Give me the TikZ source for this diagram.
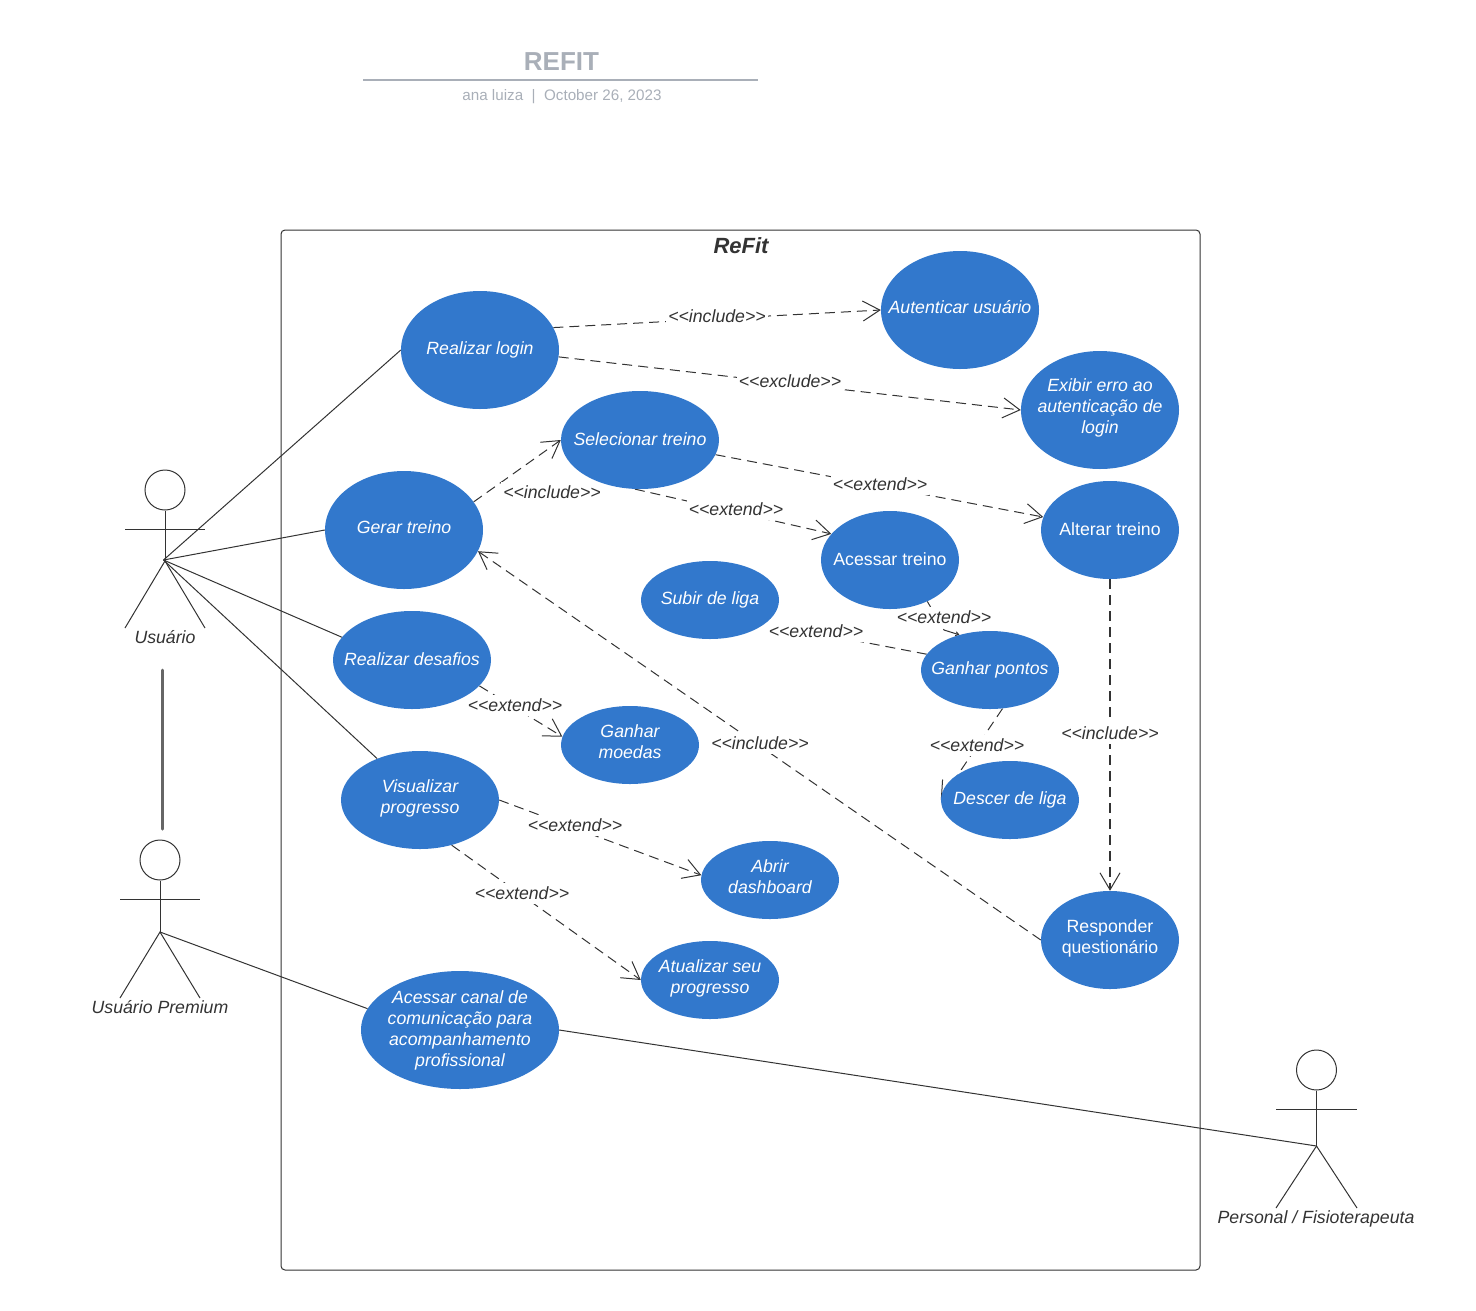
\documentclass[tikz,border=0pt]{standalone}
\usepackage{fontspec}
\setmainfont{Liberation Sans}
\usetikzlibrary{shapes.geometric,arrows.meta,backgrounds}
\definecolor{ucblue}{HTML}{3278CC}
\definecolor{ink}{HTML}{333333}
\definecolor{titlegray}{HTML}{A9AFB8}
\newcommand{\lext}{<{}<extend>{}>}
\newcommand{\linc}{<{}<include>{}>}
\newcommand{\lexc}{<{}<exclude>{}>}
\tikzset{
 uc/.style={ellipse,fill=ucblue,inner sep=0pt},
 ut/.style={text=white,inner sep=0pt,align=center,font=\fontsize{17.7}{21}\selectfont\itshape},
 utup/.style={ut,font=\fontsize{17.7}{21}\selectfont\upshape},
 big/.style={minimum width=158pt,minimum height=118pt},
 mid/.style={minimum width=158pt,minimum height=98pt},
 tall/.style={minimum width=138pt,minimum height=98pt},
 small/.style={minimum width=138pt,minimum height=78pt},
 barb/.style={-{Straight Barb[length=17pt,width=20pt,line width=1pt]}},
 dep/.style={draw=ink,line width=1pt,dash pattern=on 10pt off 6pt,barb},
 plaindep/.style={draw=ink,line width=1pt,dash pattern=on 10pt off 6pt},
 lab/.style={fill=white,inner xsep=2pt,inner ysep=0pt,minimum height=21pt,text=ink,font=\fontsize{17.7}{21}\selectfont\itshape},
 assoc/.style={draw=ink,line width=1pt},
 stick/.style={draw=ink,line width=1pt},
 headc/.style={draw=ink,line width=1pt,circle,minimum size=40pt,inner sep=0pt},
 actorlab/.style={text=ink,font=\fontsize{17.7}{21}\selectfont\itshape},
}
\begin{document}
\begin{tikzpicture}[x=1pt,y=-1pt]
\useasboundingbox (0,0) rectangle (1476,1310);
\node[font=\fontsize{26}{30}\selectfont\bfseries,text=titlegray] (title) at (561.5,61.5) {REFIT};
\draw[titlegray,line width=2pt] (363,80) -- (758,80);
\node[font=\fontsize{15.2}{18}\selectfont,text=titlegray] (sub) at (562,96.5) {ana luiza\ \ |\ \ October 26, 2023};
\node[draw=ink,line width=1pt,rounded corners=4pt,minimum width=919pt,minimum height=1040pt,inner sep=0pt] (frame) at (740.5,750) {};
\node[font=\fontsize{22}{26}\selectfont\bfseries\itshape,text=ink] (frametitle) at (741,246) {ReFit};

\node[uc,big,label={[ut]center:Realizar login}] (login) at (480,350) {};
\node[uc,big,label={[ut,yshift=3pt]center:Autenticar usuário}] (auth) at (960,310) {};
\node[uc,big,label={[ut,yshift=2pt]center:{Exibir erro ao\\autenticação de\\login}}] (erro) at (1100,410) {};
\node[uc,big,label={[ut,yshift=3pt]center:Gerar treino}] (gerar) at (404,530) {};
\node[uc,mid,label={[ut,yshift=1pt]center:Selecionar treino}] (sel) at (640,440) {};
\node[uc,tall,label={[utup,yshift=1pt]center:Alterar treino}] (alterar) at (1110,530) {};
\node[uc,tall,label={[utup,yshift=1pt]center:Acessar treino}] (acessar) at (890,560) {};
\node[uc,small,label={[ut]center:Subir de liga}] (subir) at (710,600) {};
\node[uc,small,label={[ut]center:Ganhar pontos}] (pontos) at (990,670) {};
\node[uc,mid,label={[ut,yshift=1pt]center:Realizar desafios}] (desafios) at (412,660) {};
\node[uc,small,label={[ut,yshift=3pt]center:{Ganhar\\moedas}}] (moedas) at (630,745) {};
\node[uc,small,label={[ut]center:Descer de liga}] (descer) at (1010,800) {};
\node[uc,mid,label={[ut,yshift=2pt]center:{Visualizar\\progresso}}] (visual) at (420,800) {};
\node[uc,small,label={[ut,yshift=3pt]center:{Abrir\\dashboard}}] (abrir) at (770,880) {};
\node[uc,tall,label={[utup,yshift=2pt]center:{Responder\\questionário}}] (resp) at (1110,940) {};
\node[uc,small,label={[ut,yshift=2pt]center:{Atualizar seu\\progresso}}] (atual) at (710,980) {};
\node[uc,minimum width=198pt,minimum height=118pt,label={[ut]center:{Acessar canal de\\comunicação para\\acompanhamento\\profissional}}] (canal) at (460,1030) {};

% actors
\node[headc] (h1) at (165,490) {};
\coordinate (u) at (163.5,560);
\coordinate (u1) at (165,561);
\draw[stick] (h1.south) -- (u1);
\draw[stick] (125,529) -- (205,529);
\draw[stick] (125,628) -- (u1) -- (205,628);
\node[actorlab] (ul) at (165,637) {Usuário};

\node[headc] (h2) at (160,860) {};
\coordinate (p) at (160,932);
\draw[stick] (h2.south) -- (p);
\draw[stick] (120,899) -- (200,899);
\draw[stick] (120,998) -- (p) -- (200,998);
\node[actorlab] (pl) at (160,1007) {Usuário Premium};

\node[headc] (h3) at (1316.5,1070) {};
\coordinate (f) at (1316.5,1146);
\draw[stick] (h3.south) -- (f);
\draw[stick] (1276,1109) -- (1357,1109);
\draw[stick] (1276,1208) -- (f) -- (1357,1208);
\node[actorlab] (fl) at (1316,1219) {Personal / Fisioterapeuta};

\coordinate (g1) at (162,670);
\coordinate (g2) at (162,829);
\draw[draw=black!60,line width=3pt,line cap=round] (g1) -- (g2);

% associations
\draw[assoc] (u) -- (login.west);
\draw[assoc] (u) -- (gerar.west);
\draw[assoc] (u) -- (desafios.162);
\draw[assoc] (u) -- (visual.136);
\draw[assoc] (p) -- (canal.167);
\draw[assoc] (canal.east) -- (f);

\coordinate (b1) at (944,630);
\coordinate (b2) at (800,630);
\begin{scope}[on background layer]
\draw[plaindep] (acessar.-48) -- (b1);
\draw[draw=ink,line width=1pt,-{Straight Barb[length=3pt,width=4pt,line width=1pt]}] (b1) -- (pontos.131);
\draw[dep] (pontos.-72) -- (descer.west);
\draw[plaindep] (pontos.166) -- (b2);
\draw[dep] (login.17) -- (auth.west);
\draw[dep] (login.-5) -- (erro.west);
\draw[dep] (gerar.22) -- (sel.west);
\draw[dep] (sel.-11) -- (alterar.169);
\draw[dep] (sel.264) -- (acessar.156);
\draw[dep] (desafios.-21) -- (moedas.173);
\draw[dep,line width=2pt] (alterar.south) -- (resp.north);
\draw[dep] (resp.west) -- (gerar.-16);
\draw[dep] (visual.east) -- (abrir.176);
\draw[dep] (visual.-55) -- (atual.west);

\node[lab] (t1) at (717,316) {\linc};
\node[lab] (t2) at (790,381) {\lexc};
\node[lab] (t3) at (552,492) {\linc};
\node[lab] (t4) at (880,484) {\lext};
\node[lab] (t5) at (736,509) {\lext};
\node[lab] (t6) at (944,617) {\lext};
\node[lab] (t7) at (816,631) {\lext};
\node[lab] (t8) at (515,705) {\lext};
\node[lab] (t9) at (977,745) {\lext};
\node[lab] (t10) at (1110,733) {\linc};
\node[lab] (t11) at (760,743) {\linc};
\node[lab] (t12) at (575,825) {\lext};
\node[lab] (t13) at (522,893) {\lext};
\end{scope}
\end{tikzpicture}
\end{document}
